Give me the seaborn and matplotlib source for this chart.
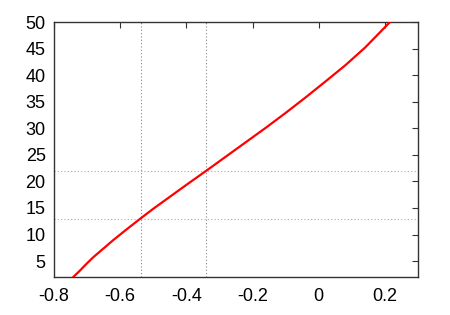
import pandas as pd
import matplotlib
matplotlib.use('Agg')
import matplotlib.pyplot as plt
import seaborn as sns

# curve
x_vals = [-0.742, -0.725, -0.70, -0.68, -0.65, -0.62, -0.58, -0.54, -0.50, -0.45, -0.40,
          -0.34, -0.28, -0.22, -0.16, -0.10, -0.04, 0.02, 0.08, 0.14, 0.18, 0.215]
y_vals = [2.0, 3.0, 4.6, 5.8, 7.4, 9.0, 11.0, 12.95, 14.85, 17.1, 19.35,
          22.0, 24.7, 27.4, 30.1, 32.9, 35.8, 38.8, 41.85, 45.2, 47.75, 50.0]

# dotted reference lines
vlines = [-0.538, -0.34]
hlines = [13, 22]

x_ticks = [-0.8, -0.6, -0.4, -0.2, 0, 0.2]
x_ticklabels = ['-0.8', '-0.6', '-0.4', '-0.2', '0', '0.2']
y_ticks = [5, 10, 15, 20, 25, 30, 35, 40, 45, 50]

df = pd.DataFrame({'x': x_vals, 'y': y_vals})

sns.set_style('white')
plt.rcParams['font.family'] = ['Liberation Sans', 'DejaVu Sans']

fig = plt.figure(figsize=(4.5, 3.15), dpi=100)
ax = fig.add_axes([0.12, 0.1206, 0.809, 0.8094])

for v in vlines:
    ax.axvline(v, color='#888888', linestyle=(0, (1, 2)), linewidth=0.8, zorder=1)
for h in hlines:
    ax.axhline(h, color='#aaaaaa', linestyle=(0, (1, 2)), linewidth=0.8, zorder=1)

sns.lineplot(x='x', y='y', data=df, sort=False, color='red', linewidth=1.6, ax=ax, zorder=3)

ax.set_xlim(-0.8, 0.3)
ax.set_ylim(2, 50)
ax.set_xticks(x_ticks)
ax.set_xticklabels(x_ticklabels)
ax.set_yticks(y_ticks)
ax.set_xlabel('')
ax.set_ylabel('')

ax.tick_params(direction='in', length=4, width=0.8, color='#333333',
               top=True, right=True, labelsize=13, labelcolor='black')
ax.tick_params(axis='x', pad=8)
ax.tick_params(axis='y', pad=6)
for s in ax.spines.values():
    s.set_color('#333333')
    s.set_linewidth(1.0)

fig.savefig('out.png', dpi=100)
